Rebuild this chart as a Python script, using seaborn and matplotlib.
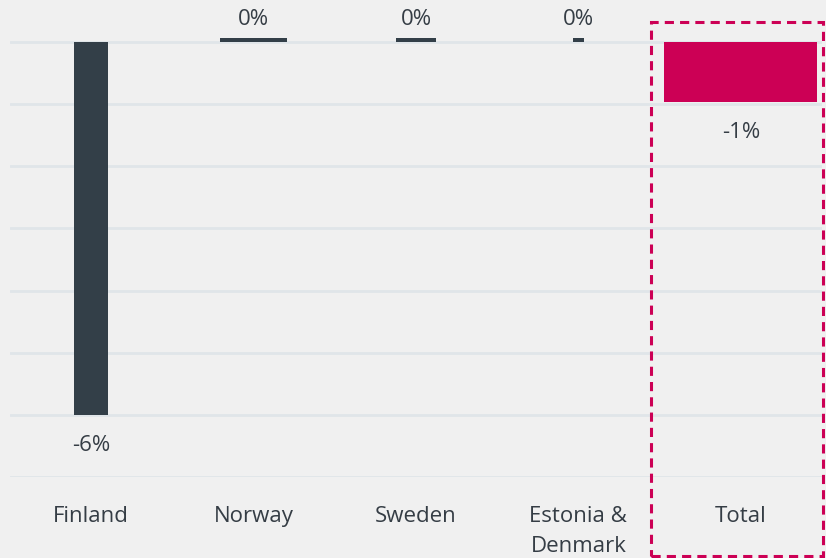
import pandas as pd
import matplotlib.pyplot as plt
import seaborn as sns
from matplotlib.patches import Rectangle

# Data
countries = ["Finland", "Norway", "Sweden", "Estonia &\nDenmark", "Total"]
change_pct = [-6.0, 0.065, 0.065, 0.065, -0.97]
bar_colors = ["#333f48", "#333f48", "#333f48", "#333f48", "#cc0055"]
# relative bar widths (in category units), as drawn in the reference
bar_widths = [0.21, 0.41, 0.25, 0.07, 0.94]

df = pd.DataFrame({"Country": countries, "Change": change_pct})

sns.set_style("white")
plt.rcParams['font.family'] = ['Open Sans', 'DejaVu Sans']
text_col = "#353d45"

fig = plt.figure(figsize=(8.26, 5.58), dpi=100)
fig.patch.set_facecolor("#f0f0f0")
ax = fig.add_axes([10 / 826, (558 - 477) / 558, 812 / 826, 477 / 558])
ax.set_facecolor("#f0f0f0")

sns.barplot(data=df, x="Country", y="Change", hue="Country", palette=bar_colors,
            saturation=1, linewidth=0, legend=False, ax=ax, zorder=3)

# resize each bar around its category centre
for patch, w in zip(ax.patches, bar_widths):
    cx = patch.get_x() + patch.get_width() / 2
    patch.set_width(w)
    patch.set_x(cx - w / 2)

ax.set_xlim(-0.5, 4.5)
ax.set_ylim(-7, 42 / 62.2)

# gridlines at every percent
for yv in range(0, -8, -1):
    ax.axhline(yv, color="#e0e5e9", lw=2, zorder=1)

for i, v in enumerate(change_pct):
    off = 13 if v > 0 else -22
    ax.annotate(f"{v:.0f}%", (i, v), xytext=(0, off), textcoords="offset points",
                ha="center", va="center", fontsize=16, color=text_col)

for s in ax.spines.values():
    s.set_visible(False)
ax.set_yticks([])
ax.set_xlabel("")
ax.set_ylabel("")
ax.tick_params(axis="x", length=0, pad=21, labelsize=16, labelcolor=text_col)
for lbl in ax.get_xticklabels():
    lbl.set_linespacing(1.55)

# dashed highlight around the total
fig.patches.append(Rectangle((651 / 826, 2 / 558), 172 / 826, 534 / 558,
                             transform=fig.transFigure, fill=False,
                             edgecolor="#cc0055", lw=2.2, ls=(0, (3, 2))))

fig.savefig("out.png", dpi=100, facecolor=fig.get_facecolor())
